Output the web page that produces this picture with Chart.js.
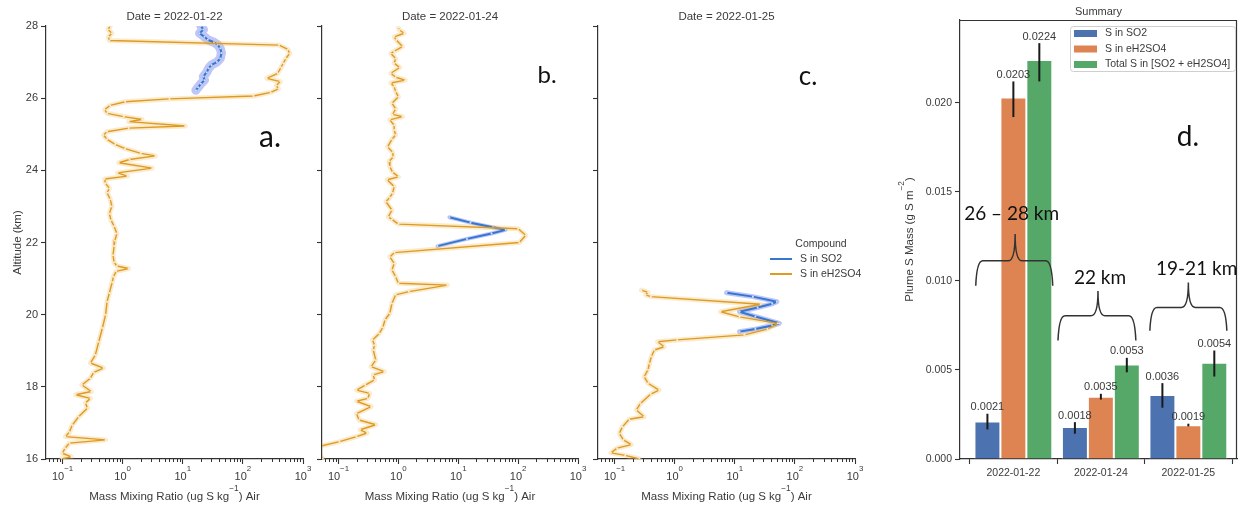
<!DOCTYPE html>
<html>
<head>
<meta charset="utf-8">
<title>Plume sulfur profiles</title>
<script src="https://cdn.jsdelivr.net/npm/chart.js@4.4.1/dist/chart.umd.min.js"></script>
<style>
  html, body { margin: 0; padding: 0; background: #fff; }
  #wrap { position: relative; width: 1238px; height: 506px; overflow: hidden; background: #fff; }
  #wrap canvas { position: absolute; left: 0; top: 0; }
</style>
</head>
<body>
<div id="wrap">
  <canvas id="pa" width="1238" height="506"></canvas>
  <canvas id="pb" width="1238" height="506"></canvas>
  <canvas id="pc" width="1238" height="506"></canvas>
  <canvas id="pd" width="1238" height="506"></canvas>
</div>
<script>
// ---- profile data (altitude km, mass mixing ratio ug S / kg air) ----
const compounds = ['S in SO2', 'S in eH2SO4'];
const dates = ['2022-01-22', '2022-01-24', '2022-01-25'];

const altA_H2SO4 = [28.0,27.9,27.8,27.7,27.6,27.47,27.35,27.24,27.1,26.97,26.85,26.69,26.55,26.46,26.35,26.26,26.16,26.06,25.98,25.9,25.8,25.68,25.58,25.49,25.41,25.35,25.23,25.17,25.07,24.98,24.86,24.72,24.6,24.47,24.4,24.3,24.21,24.06,23.93,23.84,23.76,23.64,23.5,23.38,23.2,23.0,22.8,22.62,22.45,22.25,22.05,21.9,21.65,21.45,21.35,21.28,21.2,21.05,20.9,20.6,20.36,20.0,19.63,19.25,18.88,18.66,18.52,18.4,18.24,18.05,17.87,17.78,17.68,17.55,17.41,17.17,16.94,16.75,16.62,16.53,16.44,16.3,16.16,16.06,16.0];
const mmrA_H2SO4 = [0.62,0.57,0.66,0.58,0.6,400,560,600,520,470,430,380,250,420,360,390,290,150,6,1.1,0.62,0.5,0.55,1.04,2.1,1.26,11,1.26,0.55,0.48,0.55,0.75,1.1,2.0,3.5,1.3,0.86,3.1,0.82,1.2,0.5,0.52,0.6,0.55,0.62,0.66,0.6,0.64,0.72,0.8,0.74,0.72,0.69,0.72,0.8,1.25,0.78,0.7,0.67,0.6,0.55,0.52,0.46,0.4,0.35,0.29,0.48,0.33,0.29,0.21,0.3,0.165,0.29,0.24,0.26,0.185,0.145,0.13,0.112,0.52,0.13,0.11,0.099,0.14,0.095];
const altA_SO2 = [28.0,27.9,27.8,27.7,27.62,27.55,27.48,27.38,27.25,27.1,27.0,26.92,26.83,26.72,26.6,26.5,26.4,26.3,26.22];
const mmrA_SO2 = [20,22,19,23,26,33,38,42,44,42,37,30,27,25,22,23,20,18,16.5];

const altB_H2SO4 = [27.95,27.89,27.8,27.7,27.61,27.43,27.3,27.24,27.1,26.97,26.85,26.69,26.58,26.5,26.42,26.32,26.18,26.04,25.86,25.7,25.55,25.49,25.4,25.25,25.12,24.98,24.86,24.65,24.5,24.37,24.25,24.1,23.95,23.82,23.74,23.55,23.37,23.25,23.13,22.9,22.71,22.64,22.51,22.38,22.2,22.0,21.72,21.6,21.42,21.24,21.05,20.87,20.82,20.64,20.55,20.31,20.04,19.86,19.65,19.48,19.3,19.15,19.02,18.74,18.56,18.42,18.33,18.19,18.05,17.91,17.82,17.68,17.6,17.45,17.26,17.08,16.95,16.81,16.72,16.62,16.48,16.36,16.2,16.0];
const mmrB_H2SO4 = [1.0,1.04,1.25,0.85,0.92,1.17,0.85,0.75,0.9,0.85,1.05,0.75,0.9,1.3,0.75,0.85,0.9,1.0,0.78,0.9,0.8,1.17,0.72,0.85,0.85,0.9,0.78,0.66,0.8,0.82,0.7,0.72,0.8,1.0,0.65,0.85,0.8,0.72,0.62,0.78,0.68,0.78,1.0,100,134,105,0.86,0.72,0.85,0.78,0.9,1.0,6.6,1.5,0.9,0.78,0.72,0.6,0.55,0.48,0.37,0.4,0.38,0.42,0.35,0.58,0.38,0.4,0.28,0.2,0.33,0.31,0.2,0.35,0.2,0.22,0.42,0.23,0.3,0.2,0.104,0.051,0.045,0.055];
const altB_SO2 = [22.7,22.55,22.42,22.35,22.25,22.1,21.9];
const mmrB_SO2 = [7.1,16,38,62,36,14,4.5];

const altC_H2SO4 = [20.68,20.62,20.55,20.5,20.29,20.08,19.94,19.76,19.6,19.44,19.3,19.25,19.11,19.02,18.84,18.65,18.47,18.28,18.1,17.91,17.8,17.54,17.36,17.17,17.1,16.89,16.71,16.53,16.4,16.3,16.17,16.1,16.0];
const mmrC_H2SO4 = [0.28,0.36,0.33,0.4,27,5.8,12,52,35,14.5,1.1,0.52,0.67,0.46,0.41,0.38,0.36,0.31,0.36,0.55,0.4,0.27,0.23,0.31,0.175,0.135,0.12,0.14,0.19,0.11,0.087,0.15,0.26];
const altC_SO2 = [20.61,20.5,20.36,20.3,20.2,20.08,19.95,19.76,19.7,19.6,19.53];
const mmrC_SO2 = [7.3,20,50,42,24,12,22,55,42,22,12];

// ---- summary data (g S / m2) ----
const summarySeries = ['S in SO2', 'S in eH2SO4', 'Total S in [SO2 + eH2SO4]'];
const massSO2 = [0.0021, 0.0018, 0.0036];
const massH2SO4 = [0.0203, 0.0035, 0.0019];
const massTotal = [0.0224, 0.0053, 0.0054];
const errLoSO2 = [0.00166, 0.00142, 0.00288];
const errHiSO2 = [0.00254, 0.00207, 0.00426];
const errLoH2SO4 = [0.0192, 0.00334, 0.00183];
const errHiH2SO4 = [0.0212, 0.00366, 0.00198];
const errLoTotal = [0.0212, 0.00487, 0.00463];
const errHiTotal = [0.02335, 0.00568, 0.00609];

// ---- ticks ----
const decades = [0.1, 1, 10, 100, 1000];
const decadeExp = ['\u22121', '0', '1', '2', '3'];
const altTicks = [16, 18, 20, 22, 24, 26, 28];
const massTicks = [0, 0.005, 0.01, 0.015, 0.02];

// ---- style ----
const FONT = '"Liberation Sans", Arial, sans-serif';
const NOTE_FONT = 'Lato, "Open Sans", sans-serif';
const TXT = '#3a3a3a';
const AX = '#333';
const ORANGE = '#DF9A22';
const ORANGE_BAND = 'rgba(242,194,100,0.32)';
const BLUE = '#3577D0';
const BLUE_BAND = 'rgba(125,142,240,0.5)';
const BAR_COLORS = ['#4C72B0', '#DD8452', '#55A868'];

function richWidth(ctx, parts, size) {
  let w = 0;
  parts.forEach(p => {
    ctx.font = (p.sup ? size * 0.72 : size) + 'px ' + FONT;
    w += ctx.measureText(p.t).width;
  });
  return w;
}

function drawRich(ctx, parts, x, y, size, align) {
  const w = richWidth(ctx, parts, size);
  let cx = align === 'center' ? x - w / 2 : (align === 'right' ? x - w : x);
  ctx.textAlign = 'left';
  ctx.textBaseline = 'alphabetic';
  parts.forEach(p => {
    ctx.font = (p.sup ? size * 0.72 : size) + 'px ' + FONT;
    ctx.fillText(p.t, cx, p.sup ? y - size * 0.8 : y);
    cx += ctx.measureText(p.t).width;
  });
}

const xTitle = [{t: 'Mass Mixing Ratio (ug S kg'}, {t: '\u22121', sup: true}, {t: ') Air'}];

const panels = [
  {id: 'pa', left: 46, right: 303, date: dates[0], letter: 'a.', letterX: 270, letterY: 137, letterSize: 30,
   yLabels: true, legend: false, so2Band: 9, h2: [altA_H2SO4, mmrA_H2SO4], so2: [altA_SO2, mmrA_SO2]},
  {id: 'pb', left: 322, right: 578, date: dates[1], letter: 'b.', letterX: 547, letterY: 75, letterSize: 24,
   yLabels: false, legend: false, so2Band: 4, h2: [altB_H2SO4, mmrB_H2SO4], so2: [altB_SO2, mmrB_SO2]},
  {id: 'pc', left: 598, right: 855, date: dates[2], letter: 'c.', letterX: 808, letterY: 77, letterSize: 26,
   yLabels: false, legend: true, so2Band: 5, h2: [altC_H2SO4, mmrC_H2SO4], so2: [altC_SO2, mmrC_SO2]}
];

const PLOT_TOP = 26, PLOT_BOTTOM = 459, TICK = 5;

function profileChart(p) {
  const pts = (alt, mmr) => alt.map((a, i) => ({x: mmr[i], y: a}));
  const h = pts(p.h2[0], p.h2[1]);
  const s = pts(p.so2[0], p.so2[1]);
  const base = {showLine: true, borderJoinStyle: 'round', borderCapStyle: 'round'};
  const datasets = [
    Object.assign({}, base, {label: compounds[1], data: h, borderColor: ORANGE, borderWidth: 1.4,
      pointRadius: 1, pointBackgroundColor: 'rgba(255,255,255,0.8)', pointBorderWidth: 0, order: 0}),
    Object.assign({}, base, {label: compounds[0], data: s, borderColor: BLUE, borderWidth: 2,
      pointRadius: 1, pointBackgroundColor: 'rgba(255,255,255,0.8)', pointBorderWidth: 0, order: 1}),
    Object.assign({}, base, {data: h, borderColor: ORANGE_BAND, borderWidth: 5, pointRadius: 0, order: 2}),
    Object.assign({}, base, {data: s, borderColor: BLUE_BAND, borderWidth: p.so2Band, pointRadius: 0, order: 3})
  ];

  const decor = {
    id: 'decor_' + p.id,
    afterDraw(chart) {
      const ctx = chart.ctx;
      const xs = chart.scales.x, ys = chart.scales.y;
      const area = chart.chartArea;
      ctx.save();
      // minor log ticks
      ctx.strokeStyle = AX;
      ctx.lineWidth = 1;
      for (let d = -2; d <= 2; d++) {
        for (let k = 2; k <= 9; k++) {
          const v = k * Math.pow(10, d);
          if (v < xs.min || v > xs.max) continue;
          const px = Math.round(xs.getPixelForValue(v)) + 0.5;
          ctx.beginPath();
          ctx.moveTo(px, area.bottom);
          ctx.lineTo(px, area.bottom + 3);
          ctx.stroke();
        }
      }
      ctx.fillStyle = TXT;
      // x tick labels 10^n
      decades.forEach((v, i) => {
        drawRich(ctx, [{t: '10'}, {t: decadeExp[i], sup: true}], xs.getPixelForValue(v), 480, 11, 'center');
      });
      // x title
      drawRich(ctx, xTitle, (area.left + area.right) / 2, 500, 11.5, 'center');
      // panel title
      ctx.font = '11.5px ' + FONT;
      ctx.textAlign = 'center';
      ctx.textBaseline = 'alphabetic';
      ctx.fillText('Date = ' + p.date, (area.left + area.right) / 2, 20);
      if (p.yLabels) {
        ctx.font = '11px ' + FONT;
        ctx.textAlign = 'right';
        ctx.textBaseline = 'middle';
        altTicks.forEach(v => ctx.fillText(String(v), area.left - 8, ys.getPixelForValue(v)));
        ctx.save();
        ctx.translate(21, (area.top + area.bottom) / 2);
        ctx.rotate(-Math.PI / 2);
        ctx.font = '11.5px ' + FONT;
        ctx.textAlign = 'center';
        ctx.textBaseline = 'alphabetic';
        ctx.fillText('Altitude (km)', 0, 0);
        ctx.restore();
      }
      if (p.legend) {
        ctx.font = '10.5px ' + FONT;
        ctx.textAlign = 'center';
        ctx.textBaseline = 'middle';
        ctx.fillText('Compound', 821, 244);
        [[BLUE, compounds[0], 259], [ORANGE, compounds[1], 274]].forEach(([c, t, y]) => {
          ctx.strokeStyle = c;
          ctx.lineWidth = 2;
          ctx.beginPath();
          ctx.moveTo(770, y);
          ctx.lineTo(792, y);
          ctx.stroke();
          ctx.textAlign = 'left';
          ctx.fillText(t, 800, y);
        });
      }
      // panel letter
      ctx.fillStyle = '#111';
      ctx.font = p.letterSize + 'px ' + NOTE_FONT;
      ctx.textAlign = 'center';
      ctx.textBaseline = 'middle';
      ctx.fillText(p.letter, p.letterX, p.letterY);
      ctx.restore();
    }
  };

  return new Chart(document.getElementById(p.id), {
    type: 'scatter',
    data: {datasets},
    options: {
      responsive: false,
      animation: false,
      events: [],
      layout: {padding: {left: p.left - TICK, right: 1238 - p.right, top: PLOT_TOP, bottom: 506 - PLOT_BOTTOM - TICK}},
      plugins: {legend: {display: false}, tooltip: {enabled: false}},
      scales: {
        x: {
          type: 'logarithmic', min: 0.053, max: 1000,
          afterBuildTicks: sc => { sc.ticks = decades.map(v => ({value: v, major: true})); },
          ticks: {display: false},
          grid: {drawOnChartArea: false, drawTicks: true, tickLength: TICK, tickColor: AX, tickWidth: 1.1},
          border: {display: true, color: AX, width: 1.2}
        },
        y: {
          type: 'linear', min: 16, max: 28,
          afterBuildTicks: sc => { sc.ticks = altTicks.map(v => ({value: v})); },
          ticks: {display: false},
          grid: {drawOnChartArea: false, drawTicks: true, tickLength: TICK, tickColor: AX, tickWidth: 1.1},
          border: {display: true, color: AX, width: 1.2}
        }
      }
    },
    plugins: [decor]
  });
}

panels.forEach(profileChart);

// ---- summary bar chart ----
const BRACES = [
  {label: '26 \u2013 28 km', x0: -0.43, x1: 0.45, tipX: 0.02, yEnd: 0.00973, yMid: 0.01113, yTip: 0.01264, textX: -0.02, textY: 0.01374},
  {label: '22 km', x0: 0.51, x1: 1.40, tipX: 0.967, yEnd: 0.00665, yMid: 0.00805, yTip: 0.00944, textX: 0.99, textY: 0.01019},
  {label: '19-21 km', x0: 1.56, x1: 2.44, tipX: 2.0, yEnd: 0.0072, yMid: 0.00851, yTip: 0.00991, textX: 2.095, textY: 0.01066}
];

const barValues = [massSO2, massH2SO4, massTotal];
const errLo = [errLoSO2, errLoH2SO4, errLoTotal];
const errHi = [errHiSO2, errHiH2SO4, errHiTotal];

const summaryDecor = {
  id: 'summaryDecor',
  afterDatasetsDraw(chart) {
    const ctx = chart.ctx;
    const ys = chart.scales.y;
    ctx.save();
    barValues.forEach((vals, di) => {
      const meta = chart.getDatasetMeta(di);
      vals.forEach((v, i) => {
        const bx = meta.data[i].x;
        const yl = ys.getPixelForValue(errLo[di][i]);
        const yh = ys.getPixelForValue(errHi[di][i]);
        ctx.strokeStyle = '#1a1a1a';
        ctx.lineWidth = 2;
        ctx.beginPath();
        ctx.moveTo(bx, yl);
        ctx.lineTo(bx, yh);
        ctx.stroke();
        ctx.fillStyle = '#3a3a3a';
        ctx.font = '11px ' + FONT;
        ctx.textAlign = 'center';
        ctx.textBaseline = 'alphabetic';
        ctx.fillText(v.toFixed(4), bx, yh - 3.5);
      });
    });
    ctx.restore();
  },
  afterDraw(chart) {
    const ctx = chart.ctx;
    const xs = chart.scales.x, ys = chart.scales.y;
    const area = chart.chartArea;
    ctx.save();
    // top and right spines
    ctx.strokeStyle = AX;
    ctx.lineWidth = 1.2;
    ctx.beginPath();
    ctx.moveTo(area.left, area.top + 0.5);
    ctx.lineTo(area.right - 0.5, area.top + 0.5);
    ctx.lineTo(area.right - 0.5, area.bottom);
    ctx.stroke();
    ctx.fillStyle = TXT;
    // y tick labels
    ctx.font = '10.5px ' + FONT;
    ctx.textAlign = 'right';
    ctx.textBaseline = 'middle';
    massTicks.forEach(v => ctx.fillText(v.toFixed(3), area.left - 8, ys.getPixelForValue(v)));
    // x tick labels
    ctx.textAlign = 'center';
    dates.forEach((d, i) => ctx.fillText(d, xs.getPixelForValue(i), 473));
    // title
    ctx.font = '11px ' + FONT;
    ctx.textBaseline = 'alphabetic';
    ctx.fillText('Summary', (area.left + area.right) / 2, 15);
    // y title
    ctx.save();
    ctx.translate(913, (area.top + area.bottom) / 2);
    ctx.rotate(-Math.PI / 2);
    drawRich(ctx, [{t: 'Plume S Mass (g S m'}, {t: '\u22122', sup: true}, {t: ')'}], 0, 0, 11.5, 'center');
    ctx.restore();
    // legend
    ctx.fillStyle = 'rgba(255,255,255,0.85)';
    ctx.strokeStyle = '#cfcfcf';
    ctx.lineWidth = 1;
    ctx.beginPath();
    ctx.roundRect(1070.5, 26.5, 165, 45, 3);
    ctx.fill();
    ctx.stroke();
    ctx.font = '10.5px ' + FONT;
    ctx.textAlign = 'left';
    ctx.textBaseline = 'middle';
    summarySeries.forEach((name, i) => {
      const y = 33.5 + i * 15.5;
      ctx.fillStyle = BAR_COLORS[i];
      ctx.fillRect(1074, y - 3.5, 23, 7);
      ctx.fillStyle = TXT;
      ctx.fillText(name, 1105, y);
    });
    // altitude braces
    ctx.strokeStyle = '#333';
    ctx.lineWidth = 1.5;
    BRACES.forEach(b => {
      const x0 = xs.getPixelForValue(b.x0), x1 = xs.getPixelForValue(b.x1), xt = xs.getPixelForValue(b.tipX);
      const ye = ys.getPixelForValue(b.yEnd), ym = ys.getPixelForValue(b.yMid), yt = ys.getPixelForValue(b.yTip);
      const r = 7;
      ctx.beginPath();
      ctx.moveTo(x0, ye);
      ctx.quadraticCurveTo(x0 + 1, ym, x0 + r, ym);
      ctx.lineTo(xt - r, ym);
      ctx.quadraticCurveTo(xt, ym, xt, yt);
      ctx.quadraticCurveTo(xt, ym, xt + r, ym);
      ctx.lineTo(x1 - r, ym);
      ctx.quadraticCurveTo(x1 - 1, ym, x1, ye);
      ctx.stroke();
      ctx.fillStyle = '#111';
      ctx.font = '19px ' + NOTE_FONT;
      ctx.textAlign = 'center';
      ctx.textBaseline = 'middle';
      ctx.fillText(b.label, xs.getPixelForValue(b.textX), ys.getPixelForValue(b.textY));
    });
    ctx.fillStyle = '#111';
    ctx.font = '28px ' + NOTE_FONT;
    ctx.fillText('d.', 1188, 137);
    ctx.restore();
  }
};

new Chart(document.getElementById('pd'), {
  type: 'bar',
  data: {
    datasets: barValues.map((vals, di) => ({
      label: summarySeries[di],
      data: vals.map((v, i) => ({x: i, y: v})),
      backgroundColor: BAR_COLORS[di],
      borderColor: '#fff',
      borderWidth: 1,
      borderSkipped: 'bottom',
      categoryPercentage: 0.89,
      barPercentage: 1.0
    }))
  },
  options: {
    responsive: false,
    animation: false,
    events: [],
    layout: {padding: {left: 960 - TICK, right: 1, top: 20, bottom: 506 - 459 - TICK}},
    plugins: {legend: {display: false}, tooltip: {enabled: false}},
    scales: {
      x: {
        type: 'linear', min: -0.61, max: 2.556, offset: false,
        afterBuildTicks: sc => { sc.ticks = dates.map((d, i) => ({value: i})); },
        ticks: {display: false},
        grid: {drawOnChartArea: false, drawTicks: true, tickLength: TICK, tickColor: AX, tickWidth: 1.1},
        border: {display: true, color: AX, width: 1.2}
      },
      y: {
        type: 'linear', min: 0, max: 0.02465,
        afterBuildTicks: sc => { sc.ticks = massTicks.map(v => ({value: v})); },
        ticks: {display: false},
        grid: {drawOnChartArea: false, drawTicks: true, tickLength: TICK, tickColor: AX, tickWidth: 1.1},
        border: {display: true, color: AX, width: 1.2}
      }
    }
  },
  plugins: [summaryDecor]
});
</script>
</body>
</html>
